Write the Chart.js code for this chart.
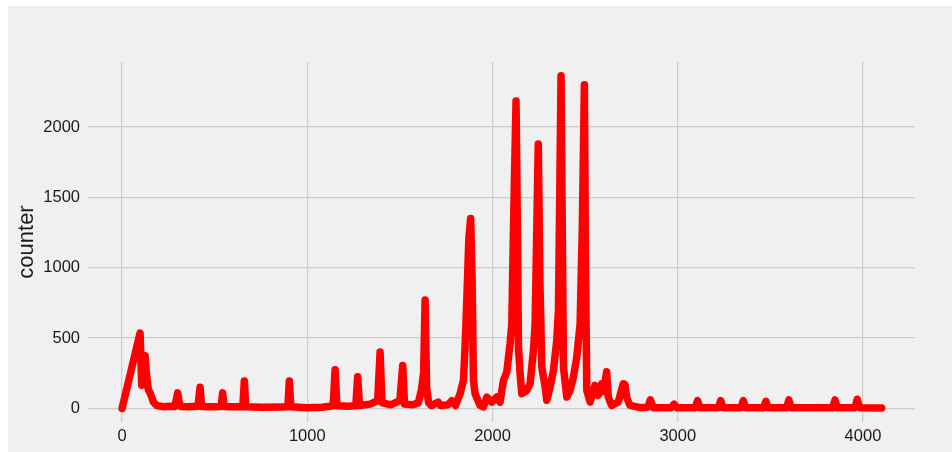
<!DOCTYPE html>
<html>
<head>
<meta charset="utf-8">
<script src="https://cdn.jsdelivr.net/npm/chart.js@4/dist/chart.umd.min.js"></script>
<style>
  html, body { margin: 0; padding: 0; background: #ffffff; }
  #wrap { position: absolute; left: 8px; top: 6px; width: 944px; height: 446px; }
</style>
</head>
<body>
<div id="wrap"><canvas id="counterChart" width="944" height="446"></canvas></div>
<script>
// Sample index along the run and the counter value at that sample
const timeSteps = [
    0, 97, 106, 113, 124, 133, 142, 151, 160, 169, 187, 220, 260,
    285, 293, 300, 307, 315, 360, 410, 421, 430, 480, 535, 543, 551, 600,
    652, 660, 668, 750, 850, 895, 903, 911, 1000, 1080,
    1140, 1150, 1160, 1220, 1262, 1272, 1282, 1340, 1380, 1393, 1403,
    1450, 1500, 1515, 1525, 1570, 1600, 1616, 1628, 1636, 1644, 1655, 1670,
    1707, 1720, 1760, 1780, 1800, 1825, 1843, 1851, 1862, 1872, 1882, 1890,
    1897, 1906, 1933, 1951, 1969, 1996, 2023, 2041, 2059, 2077, 2095, 2104,
    2115, 2127, 2135, 2140, 2149, 2158, 2185, 2203, 2221, 2230, 2238, 2247,
    2256, 2266, 2284, 2293, 2311, 2329, 2347, 2356, 2362, 2370, 2377, 2383,
    2401, 2419, 2437, 2455, 2473, 2485, 2496, 2502, 2509, 2527, 2553, 2571,
    2589, 2600, 2616, 2625, 2643, 2679, 2706, 2715, 2724, 2742, 2800, 2840,
    2852, 2868, 2965, 2980, 2995, 3095, 3107, 3119, 3220, 3232, 3244, 3342,
    3354, 3366, 3464, 3476, 3488, 3588, 3600, 3612, 3837, 3849, 3861, 3957,
    3969, 3981, 4101
];
const counterValues = [
    0, 535, 165, 290, 375, 225, 130, 110, 80, 45, 20, 12, 15,
    14, 60, 110, 55, 14, 12, 15, 150, 14, 12, 14, 110, 14, 12,
    12, 195, 12, 8, 10, 12, 195, 12, 5, 8,
    18, 275, 18, 15, 18, 225, 20, 30, 55, 400, 40,
    25, 55, 305, 30, 25, 40, 130, 250, 770, 150, 40, 20,
    45, 20, 25, 55, 20, 104, 199, 412, 800, 1200, 1350, 900,
    199, 104, 21, 10, 80, 45, 80, 45, 199, 258, 460, 600,
    1400, 2185, 1200, 435, 246, 104, 128, 175, 412, 600, 1200, 1880,
    900, 294, 152, 57, 152, 270, 483, 697, 1400, 2365, 1200, 294,
    80, 128, 223, 365, 600, 1300, 2300, 1000, 128, 45, 164, 93,
    175, 120, 260, 80, 21, 45, 175, 170, 80, 21, 5, 10,
    60, 5, 5, 30, 5, 5, 55, 5, 5, 55, 5, 5,
    55, 5, 5, 50, 5, 5, 60, 5, 5, 60, 5, 5,
    65, 5, 3
];
const xTicks = [0, 1000, 2000, 3000, 4000];
const yTicks = [0, 500, 1000, 1500, 2000];

const points = timeSteps.map((t, i) => ({ x: t, y: counterValues[i] }));

// Fill the whole canvas with the light grey figure colour
const figureBackground = {
    id: 'figureBackground',
    beforeDraw(chart) {
        const c = chart.ctx;
        c.save();
        c.fillStyle = '#f0f0f0';
        c.fillRect(0, 0, chart.width, chart.height);
        c.restore();
    }
};

const tickFont = { family: 'Liberation Sans', size: 16.5 };
const gridColor = '#cbcbcb';

new Chart(document.getElementById('counterChart').getContext('2d'), {
    type: 'line',
    data: {
        datasets: [{
            data: points,
            borderColor: '#ff0000',
            backgroundColor: '#ff0000',
            borderWidth: 7.5,
            borderJoinStyle: 'round',
            borderCapStyle: 'round',
            pointRadius: 0,
            tension: 0,
            fill: false
        }]
    },
    options: {
        responsive: false,
        animation: false,
        layout: { padding: { top: 56, right: 37, left: 0, bottom: 0 } },
        plugins: { legend: { display: false }, tooltip: { enabled: false } },
        scales: {
            x: {
                type: 'linear',
                min: -184,
                max: 4281,
                afterBuildTicks: s => { s.ticks = xTicks.map(v => ({ value: v })); },
                afterFit: s => { s.height = 30; },
                ticks: { color: '#1a1a1a', font: tickFont, padding: 5, maxRotation: 0, callback: v => String(v) },
                grid: { color: gridColor, lineWidth: 1.2, drawTicks: false },
                border: { display: false }
            },
            y: {
                min: -97,
                max: 2462,
                afterBuildTicks: s => { s.ticks = yTicks.map(v => ({ value: v })); },
                afterFit: s => { s.width = 80; },
                ticks: { color: '#1a1a1a', font: tickFont, padding: 8, callback: v => String(v) },
                grid: { color: gridColor, lineWidth: 1.2, drawTicks: false },
                border: { display: false },
                title: {
                    display: true,
                    text: 'counter',
                    color: '#1a1a1a',
                    font: { family: 'Liberation Sans', size: 22 },
                    padding: { top: 6, bottom: 0 }
                }
            }
        }
    },
    plugins: [figureBackground]
});
</script>
</body>
</html>
